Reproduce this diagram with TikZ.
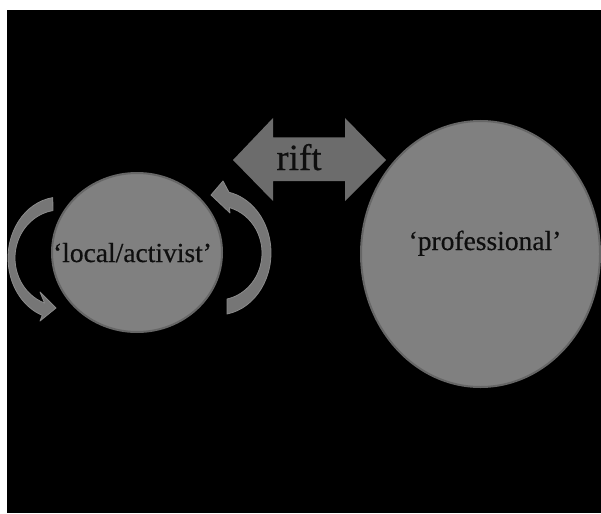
\documentclass[tikz,border=0pt]{standalone}
\usepackage{fontspec}
\setmainfont{Liberation Serif}
\newfontfamily\lblfont{Liberation Serif}[UprightFeatures={FakeBold=0.5}]
\usetikzlibrary{shapes.geometric}
\definecolor{circfill}{HTML}{808080}
\definecolor{circedge}{HTML}{666666}
\definecolor{riftfill}{HTML}{6C6C6C}
\definecolor{curvfill}{HTML}{767676}
\definecolor{curvedge}{HTML}{8A8A8A}
\definecolor{txt}{HTML}{0E0E0E}
\begin{document}
\begin{tikzpicture}[x=1pt,y=-1pt,
  blob/.style={ellipse, draw=circedge, line width=2pt, fill=circfill, inner sep=0pt},
  lbl/.style={text=txt, font=\lblfont\fontsize{27.5}{30}\selectfont, inner sep=0pt, anchor=base},
  curvarrow/.style={fill=curvfill, draw=curvedge, line width=0.8pt, line join=round},
  riftarrow/.style={fill=riftfill, draw=none}]
\useasboundingbox (0,0) rectangle (601,513);
\fill[white] (0,0) rectangle (601,513);
\fill[black] (7,10) rectangle (601,513);
% circles
\node[blob, minimum width=170pt, minimum height=159pt] (local) at (137,252.5) {};
\node[blob, minimum width=239pt, minimum height=266pt] (prof) at (480.5,254) {};
% curved arrows
\path[curvarrow] (52.8,197.6) arc[start angle=262, end angle=110, x radius=52, y radius=61]
  -- (40,321) -- (56,308) -- (40,292) -- (44.6,303.1)
  arc[start angle=110, end angle=261, x radius=45, y radius=48] -- cycle;
\path[curvarrow] (227,314) arc[start angle=80.2, end angle=-78, x radius=53, y radius=62]
  -- (223,181) -- (211,195) -- (230,213) -- (229.4,207.6)
  arc[start angle=-75, end angle=78.2, x radius=44, y radius=47] -- cycle;
% rift double arrow
\path[riftarrow] (233,160) -- (273,118) -- (273,137.5) -- (345,137.5) -- (345,118)
  -- (386,160) -- (345,201) -- (345,181) -- (273,181) -- (273,201) -- cycle;
% labels
\node[lbl, font=\lblfont\fontsize{37}{40}\selectfont] (rift) at (299,170) {rift};
\node[lbl] (loctxt) at (132.5,262) {‘local/activist’};
\node[lbl] (proftxt) at (485,250) {‘professional’};
\end{tikzpicture}
\end{document}
